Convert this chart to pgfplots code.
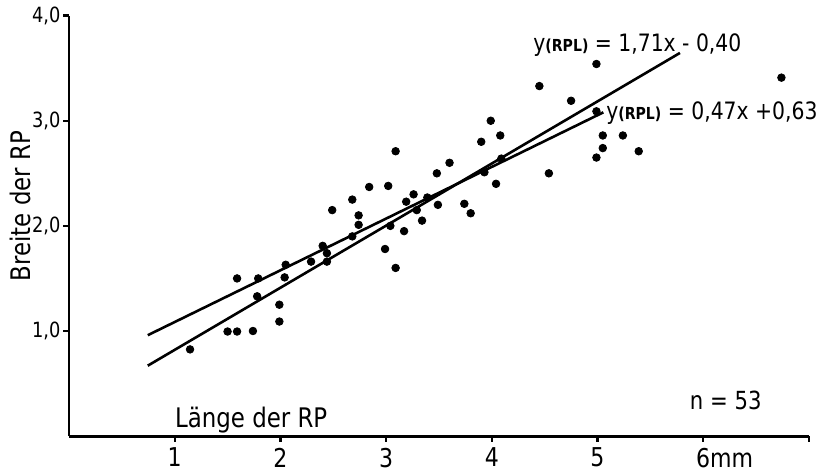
\documentclass[border=0pt]{standalone}
\usepackage{pgfplots}
\pgfplotsset{compat=1.18}
\usepackage{fontspec}
\setmainfont{DejaVu Sans}[FakeStretch=0.85]

\begin{document}
\begin{tikzpicture}
\begin{axis}[
    scale only axis,
    width=369.5bp, height=210bp,
    xmin=0, xmax=7, ymin=0, ymax=4,
    axis lines=left,
    axis line style={-, line width=1.4pt},
    every tick/.style={black, line width=1.2pt},
    tick align=outside,
    major tick length=2.8bp,
    xtick={1,2,3,4,5,6,7},
    xticklabels={1,2,3,4,5,6\rlap{mm},{}},
    ytick={1,2,3,4},
    yticklabels={{1,0},{2,0},{3,0},{4,0}},
    x tick label style={font=\fontsize{13}{13}\selectfont, yshift=0.5bp},
    y tick label style={font=\fontsize{10.5}{10.5}\selectfont, xshift=2bp},
    clip=false
]
% Messpunkte (n = 53)
\addplot[only marks, mark=*, mark size=1.9pt, black] coordinates {
    (1.145,0.825)(1.50,0.995)(1.59,0.995)(1.74,1.00)(1.99,1.09)(1.99,1.25)
    (1.78,1.33)(1.59,1.50)(1.79,1.50)(2.04,1.51)(2.05,1.63)(2.29,1.66)
    (2.40,1.81)(2.44,1.74)(2.44,1.66)(2.68,1.90)(2.49,2.15)(2.68,2.25)
    (2.74,2.10)(2.74,2.01)(2.84,2.37)(3.02,2.38)(3.09,2.71)(3.04,2.00)
    (2.99,1.78)(3.09,1.60)(3.17,1.95)(3.19,2.23)(3.26,2.30)(3.29,2.15)
    (3.34,2.05)(3.39,2.27)(3.48,2.50)(3.49,2.20)(3.60,2.60)(3.74,2.21)
    (3.80,2.12)(3.90,2.80)(3.99,3.00)(4.08,2.86)(4.09,2.64)(3.93,2.51)
    (4.04,2.40)(4.54,2.50)(4.45,3.33)(4.75,3.19)(4.99,3.54)(4.99,3.09)
    (5.05,2.86)(5.05,2.74)(4.99,2.65)(6.74,3.41)(5.24,2.86)(5.39,2.71)
};
% Regressionsgeraden
\addplot[black, line width=1.3pt] coordinates {(0.745,0.67)(5.78,3.645)};
\addplot[black, line width=1.3pt] coordinates {(0.745,0.96)(5.055,3.08)};

\node[anchor=base west, inner sep=0pt, font=\fontsize{13.5}{13.5}\selectfont]
    at (axis cs:1.0,0.085) {Länge der RP};
\node[rotate=90, anchor=north, inner sep=0pt, font=\fontsize{13.5}{13.5}\selectfont]
    at (axis cs:-0.56,2.19) {Breite der RP};
\node[anchor=base west, inner sep=0pt, font=\fontsize{12}{12}\selectfont]
    at (axis cs:4.39,3.66) {y{\fontsize{8.3}{8.3}\selectfont\bfseries (RPL)} = 1,71x - 0,40};
\node[anchor=base west, inner sep=0pt, font=\fontsize{12}{12}\selectfont]
    at (axis cs:5.08,3.01) {y{\fontsize{8.3}{8.3}\selectfont\bfseries (RPL)} = 0,47x +0,63};
\node[anchor=base east, inner sep=0pt, font=\fontsize{12.5}{12.5}\selectfont]
    at (axis cs:6.556,0.256) {n = 53};

\coordinate (bl) at (axis cs:-0.653,-0.332);
\coordinate (tr) at (axis cs:7.143,4.114);
\end{axis}
\path (bl) rectangle (tr);
\end{tikzpicture}
\end{document}
